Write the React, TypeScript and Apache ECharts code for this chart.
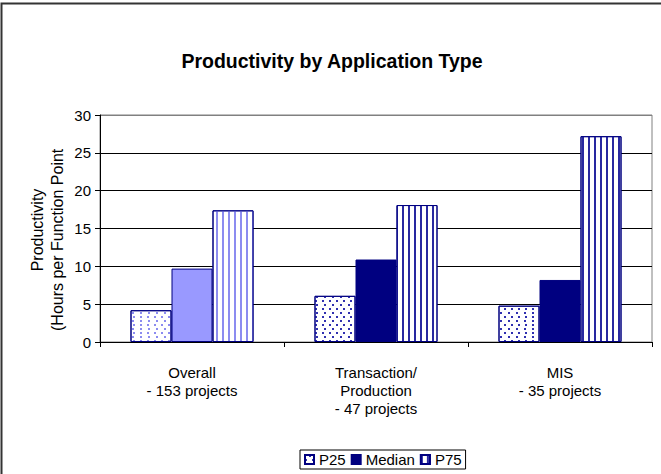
import React, { useEffect, useRef } from 'react';
import * as echarts from 'echarts';

const categories = ['Overall\n- 153 projects', 'Transaction/\nProduction\n- 47 projects', 'MIS\n- 35 projects'];
const seriesNames = ['P25', 'Median', 'P75'];
const p25Values = [4.2, 6.1, 4.8];
const medianValues = [9.7, 10.9, 8.2];
const p75Values = [17.4, 18.1, 27.2];
const yTickValues = [0, 5, 10, 15, 20, 25, 30];
const titleText = 'Productivity by Application Type';
const yTitleLines = ['Productivity', '(Hours per Function Point'];

const FONT = '"Liberation Sans", Arial, Helvetica, sans-serif';
const NAVY = '#000080';
const LIGHT = '#9999FF';

const dotDecal = (color: string) => ({
  symbol: 'rect',
  symbolSize: 1,
  color,
  dashArrayX: [[1.5, 5], [0, 3.25, 1.5, 1.75]],
  dashArrayY: [1.5, 2],
  rotation: 0,
});

const stripeDecal = (color: string) => ({
  symbol: 'rect',
  symbolSize: 1,
  color,
  dashArrayX: [1.3, 4],
  dashArrayY: [1, 0],
  rotation: 0,
});

export default function App() {
  const ref = useRef<HTMLDivElement>(null);

  useEffect(() => {
    if (!ref.current) return;
    const chart = echarts.init(ref.current, undefined, { renderer: 'svg' });

    const yMin = yTickValues[0];
    const yMax = yTickValues[yTickValues.length - 1];
    const yStep = yTickValues[1] - yTickValues[0];

    const p25Data = p25Values.map((v, i) => ({
      value: v,
      itemStyle: {
        color: '#ffffff',
        borderColor: NAVY,
        borderWidth: 1,
        decal: dotDecal(i === 0 ? '#8c8cf0' : '#3030b0'),
      },
    }));
    const medianData = medianValues.map((v, i) => ({
      value: v,
      itemStyle: { color: i === 0 ? LIGHT : NAVY, borderColor: NAVY, borderWidth: 1 },
    }));
    const p75Data = p75Values.map((v, i) => ({
      value: v,
      itemStyle: {
        color: '#ffffff',
        borderColor: NAVY,
        borderWidth: 1,
        decal: stripeDecal(i === 0 ? '#8c8cf0' : '#2828a0'),
      },
    }));

    const splitColors = yTickValues.map((t) => (t === yMax ? '#808080' : '#000000'));

    chart.setOption({
      animation: false,
      backgroundColor: '#ffffff',
      textStyle: { fontFamily: FONT },
      grid: {
        left: 100,
        right: 9,
        top: 115,
        bottom: 132,
        show: true,
        borderColor: '#808080',
        borderWidth: 1,
        backgroundColor: 'transparent',
      },
      legend: {
        data: seriesNames,
        left: 300,
        top: 450,
        orient: 'horizontal',
        itemWidth: 9,
        itemHeight: 9,
        itemGap: 5,
        padding: [2, 4],
        borderColor: '#000000',
        borderWidth: 1,
        backgroundColor: '#ffffff',
        textStyle: { fontSize: 15, color: '#000', fontFamily: FONT },
        icon: 'rect',
      },
      xAxis: {
        type: 'category',
        data: categories,
        boundaryGap: true,
        axisLine: { show: true, lineStyle: { color: '#000', width: 1 } },
        axisTick: { show: true, alignWithLabel: false, interval: 0, length: 5, lineStyle: { color: '#000' } },
        axisLabel: {
          interval: 0,
          fontSize: 15,
          lineHeight: 18,
          margin: 21,
          color: '#000',
          fontFamily: FONT,
        },
        splitLine: { show: false },
      },
      yAxis: {
        type: 'value',
        min: yMin,
        max: yMax,
        interval: yStep,
        axisLine: { show: true, lineStyle: { color: '#000', width: 1 } },
        axisTick: { show: true, inside: false, length: 5, lineStyle: { color: '#000' } },
        axisLabel: { fontSize: 15, margin: 9, color: '#000', fontFamily: FONT },
        splitLine: { show: true, lineStyle: { color: splitColors, width: 1 } },
      },
      series: [
        {
          name: seriesNames[0],
          type: 'bar',
          barWidth: 41,
          barGap: '0%',
          data: p25Data,
          itemStyle: { color: '#ffffff', borderColor: NAVY, borderWidth: 1, decal: dotDecal('#3030b0') },
        },
        {
          name: seriesNames[1],
          type: 'bar',
          barWidth: 41,
          barGap: '0%',
          data: medianData,
          itemStyle: { color: NAVY, borderColor: NAVY, borderWidth: 1 },
        },
        {
          name: seriesNames[2],
          type: 'bar',
          barWidth: 41,
          barGap: '0%',
          data: p75Data,
          itemStyle: { color: '#ffffff', borderColor: NAVY, borderWidth: 1, decal: stripeDecal('#2828a0') },
        },
      ],
      graphic: [
        {
          type: 'rect',
          shape: { x: 1.5, y: 3.5, width: 700, height: 520 },
          style: { fill: 'none', stroke: '#333333', lineWidth: 2 },
          silent: true,
          z: 100,
        },
        {
          type: 'text',
          x: 332,
          y: 61,
          style: {
            text: titleText,
            font: `bold 19.5px ${FONT}`,
            fill: '#000',
            align: 'center',
            verticalAlign: 'middle',
          },
        },
        {
          type: 'text',
          x: 37,
          y: 230,
          rotation: Math.PI / 2,
          style: {
            text: yTitleLines[0],
            font: `16px ${FONT}`,
            fill: '#000',
            align: 'center',
            verticalAlign: 'middle',
          },
        },
        {
          type: 'text',
          x: 57,
          y: 331,
          rotation: Math.PI / 2,
          style: {
            text: yTitleLines[1],
            font: `16px ${FONT}`,
            fill: '#000',
            align: 'left',
            verticalAlign: 'middle',
          },
        },
      ],
    });

    return () => chart.dispose();
  }, []);

  return (
    <div
      ref={ref}
      style={{ position: 'absolute', left: 0, top: 0, width: 661, height: 474, background: '#fff' }}
    />
  );
}
